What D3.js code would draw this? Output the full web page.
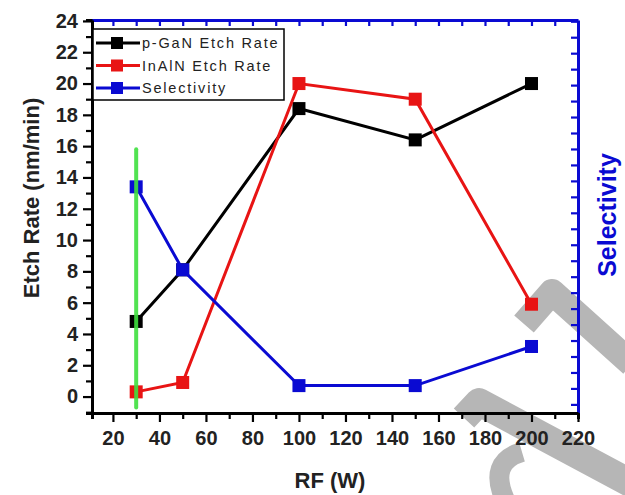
<!DOCTYPE html>
<html>
<head>
<meta charset="utf-8">
<script src="https://cdn.jsdelivr.net/npm/d3@7"></script>
<style>
  body { margin: 0; background: #fff; }
  svg text { font-family: "Liberation Sans", Arial, sans-serif; }
</style>
</head>
<body>
<svg width="625" height="495"></svg>
<script>
// The data:
var rfPower = [30, 50, 100, 150, 200]
var pganRate = [4.8, 8.1, 18.4, 16.4, 20.0]
var inalnRate = [0.3, 0.9, 20.0, 19.0, 5.9]
var selectivity = [13.4, 8.1, 0.7, 0.7, 3.2]   // drawn on the (unlabelled) right axis
var leftTicks = [0, 2, 4, 6, 8, 10, 12, 14, 16, 18, 20, 22, 24]
var bottomTicks = [20, 40, 60, 80, 100, 120, 140, 160, 180, 200, 220]
var markerLine = { x: 30, from: -0.7, to: 15.8 }

var series = [
  { name: 'p-GaN Etch Rate', values: pganRate, color: '#000000' },
  { name: 'InAlN Etch Rate', values: inalnRate, color: '#e81414' },
  { name: 'Selectivity', values: selectivity, color: '#0a0ad2' },
]

let svg = d3.select('svg')

// Grey watermark strokes, behind everything
let wm = svg.append('g').attr('fill', 'none').attr('stroke', '#b6b6b6')
  .attr('stroke-linejoin', 'round')
wm.append('path').attr('d', 'M524,324 L552,292 L632,364').attr('stroke-width', 26)
wm.append('path').attr('d', 'M464,418 L479,402 L632,484').attr('stroke-width', 28)
wm.append('path').attr('d', 'M522,452 Q488,462 505,500').attr('stroke-width', 20)

// Scales
let xScale = d3.scaleLinear().domain([11, 220]).range([92, 578])
let yScale = d3.scaleLinear().domain([-1.05, 24.06]).range([413, 20])

// Minor ticks first
let minorX = d3.range(30, 220, 20)
let minorY = d3.range(-1, 24, 2)

svg.append('g').attr('transform', 'translate(0,413)')
  .call(d3.axisBottom(xScale).tickValues(minorX).tickSize(6).tickFormat(''))
svg.append('g').attr('transform', 'translate(92,0)')
  .call(d3.axisLeft(yScale).tickValues(minorY).tickSize(6).tickFormat(''))

// top and right frame in blue, ticks inward
svg.append('g').attr('class', 'blue').attr('transform', 'translate(0,20)')
  .call(d3.axisTop(xScale).tickValues(d3.range(20, 220, 10)).tickSizeInner(-6).tickSizeOuter(0).tickFormat(''))
svg.append('g').attr('class', 'blue').attr('transform', 'translate(578,0)')
  .call(d3.axisRight(yScale).tickValues(d3.range(-0.5, 24, 1.02)).tickSizeInner(-7).tickSizeOuter(0).tickFormat(''))

// Major axes
let xAxis = d3.axisBottom(xScale).tickValues(bottomTicks).tickSize(9).tickSizeOuter(0).tickPadding(9)
svg.append('g').attr('class', 'major').attr('transform', 'translate(0,413)').call(xAxis)

let yAxis = d3.axisLeft(yScale).tickValues(leftTicks).tickSize(9).tickSizeOuter(0).tickPadding(5)
svg.append('g').attr('class', 'major').attr('transform', 'translate(92,0)').call(yAxis)

svg.selectAll('.domain').attr('stroke-width', 3)
svg.selectAll('.tick line').attr('stroke-width', 2.2)
svg.selectAll('.blue .domain, .blue .tick line').attr('stroke', '#0a0ad2')
svg.selectAll('.major .tick text')
  .attr('font-size', 20).attr('font-weight', 'bold').attr('fill', '#222')

// Axis titles
svg.append('text').attr('x', 330).attr('y', 488).attr('text-anchor', 'middle')
  .attr('font-size', 22).attr('font-weight', 'bold').attr('fill', '#222').text('RF (W)')
svg.append('text').attr('transform', 'translate(39,198) rotate(-90)').attr('text-anchor', 'middle')
  .attr('font-size', 22).attr('font-weight', 'bold').attr('fill', '#222').text('Etch Rate (nm/min)')
svg.append('text').attr('transform', 'translate(616,215) rotate(-90)').attr('text-anchor', 'middle')
  .attr('font-size', 25).attr('font-weight', 'bold').attr('fill', '#0a0ad2').text('Selectivity')

// Lines and markers
let line = d3.line().x((d, i) => xScale(rfPower[i])).y((d) => yScale(d))
series.forEach((s) => {
  svg.append('path').datum(s.values).attr('d', line)
    .attr('fill', 'none').attr('stroke', s.color).attr('stroke-width', 3)
  svg.append('g').selectAll('rect').data(s.values).enter().append('rect')
    .attr('x', (d, i) => xScale(rfPower[i]) - 6.5)
    .attr('y', (d) => yScale(d) - 6.5)
    .attr('width', 13).attr('height', 13)
    .attr('fill', s.color)
})

// Green vertical marker line
svg.append('line')
  .attr('x1', xScale(markerLine.x)).attr('x2', xScale(markerLine.x))
  .attr('y1', yScale(markerLine.to)).attr('y2', yScale(markerLine.from))
  .attr('stroke', '#3fe03f').attr('stroke-width', 4).attr('stroke-linecap', 'round')
  .attr('opacity', 0.9)

// Legend
let legend = svg.append('g')
legend.append('rect').attr('x', 93).attr('y', 29).attr('width', 191).attr('height', 71)
  .attr('fill', '#fff').attr('stroke', '#000').attr('stroke-width', 1.5)
series.forEach((s, i) => {
  let ly = 43 + i * 22.5
  legend.append('line').attr('x1', 96).attr('x2', 140).attr('y1', ly).attr('y2', ly)
    .attr('stroke', s.color).attr('stroke-width', 3)
  legend.append('rect').attr('x', 111).attr('y', ly - 6).attr('width', 12).attr('height', 12)
    .attr('fill', s.color)
  legend.append('text').attr('x', 142).attr('y', ly + 5).attr('font-size', 14.5)
    .attr('letter-spacing', 1.8).attr('fill', '#222').text(s.name)
})
</script>
</body>
</html>
